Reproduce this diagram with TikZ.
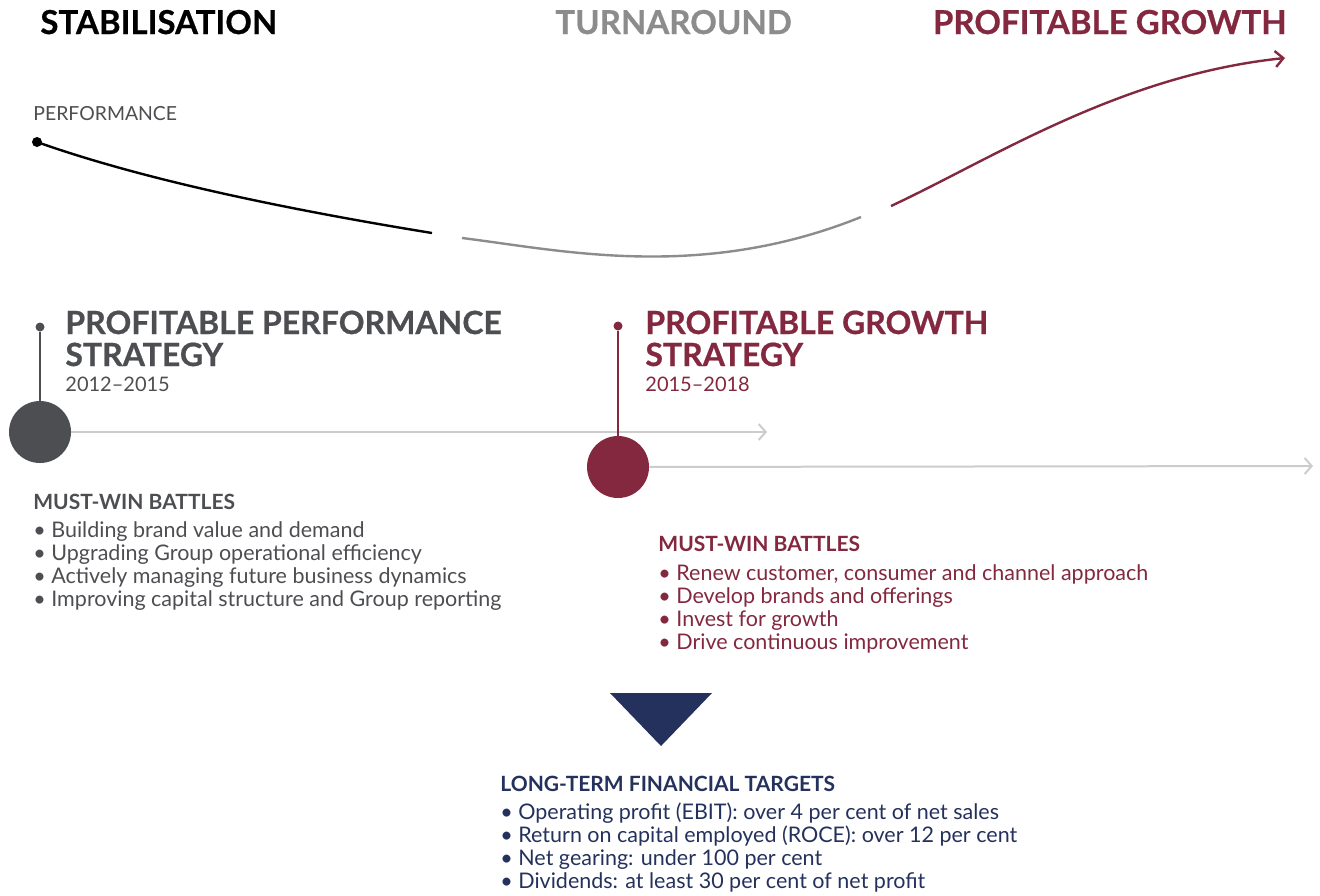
\documentclass[tikz,border=0pt]{standalone}
\usepackage{fontspec}
\setmainfont{Lato}
\newfontfamily\heavy[FakeBold=0.6]{Lato Bold}
\usetikzlibrary{arrows.meta}
\definecolor{slate}{HTML}{4D4E52}
\definecolor{wine}{HTML}{83283F}
\definecolor{navy}{HTML}{24315C}
\definecolor{ash}{HTML}{8C8C8C}
\definecolor{mist}{HTML}{CCCCCC}
\begin{document}
\begin{tikzpicture}[x=0.5pt,y=-0.5pt,
  phase/.style={anchor=base west,inner sep=0pt,font=\fontsize{16.5}{18}\selectfont\heavy},
  title/.style={anchor=base west,inner sep=0pt,font=\fontsize{16}{18}\selectfont\heavy},
  years/.style={anchor=base west,inner sep=0pt,font=\fontsize{10}{12}\selectfont},
  battle/.style={anchor=base west,inner sep=0pt,font=\fontsize{10.5}{12}\selectfont\bfseries},
  item/.style={anchor=base west,inner sep=0pt,font=\fontsize{10.75}{12}\selectfont},
  pin/.style={circle,inner sep=0pt,minimum size=4.5pt},
  disc/.style={circle,inner sep=0pt,minimum size=31pt},
  track/.style={draw=mist,line width=1pt,-{Straight Barb[length=3.5pt,width=8pt]}}]
\useasboundingbox (0,0) rectangle (1320,895);
% phases
\node[phase] (stab) at (40,34) {STABILISATION};
\node[phase,text=ash] (turn) at (555,34) {TURNAROUND};
\node[phase,text=wine,anchor=base east] (grow) at (1287,34) {PROFITABLE GROWTH};
% performance curve
\node[anchor=base west,inner sep=0pt,text=slate,font=\fontsize{9.7}{10}\selectfont] (perf) at (33,120) {PERFORMANCE};
\node[pin,fill=black,minimum size=5pt] (perf-dot) at (37,142) {};
\coordinate (c1) at (432,233);
\coordinate (c2) at (462,238);
\coordinate (c3) at (861,217);
\coordinate (c4) at (891,206);
\coordinate (c5) at (1285,58);
\draw[line width=1.2pt,black] (perf-dot.center) .. controls (130,175) and (260,205) .. (c1);
\draw[line width=1.2pt,ash] (c2) .. controls (560,250) and (700,282) .. (c3);
\draw[line width=1.2pt,wine,-{Straight Barb[length=4pt,width=8pt]}] (c4) .. controls (990,160) and (1120,75) .. (c5);
% profitable performance strategy
\node[pin,fill=slate] (pp-dot) at (40,327) {};
\node[disc,fill=slate] (pp-disc) at (40,432) {};
\coordinate (pp-end) at (767,432);
\draw[slate,line width=1pt] (pp-dot) -- (pp-disc);
\draw[track] (pp-disc) -- (pp-end);
\node[title,text=slate] (pp-title1) at (65,334) {PROFITABLE PERFORMANCE};
\node[title,text=slate] (pp-title2) at (65,366) {STRATEGY};
\node[years,text=slate] (pp-years) at (65,391) {2012–2015};
\node[battle,text=slate] (pp-mwb) at (33,509) {MUST-WIN BATTLES};
\foreach \txt [count=\i] in {Building brand value and demand,
  Upgrading Group operational efficiency,
  Actively managing future business dynamics,
  Improving capital structure and Group reporting}
  \node[item,text=slate] (pp-item\i) at (33,{537+23*(\i-1)}) {\textbullet\ \txt};
% profitable growth strategy
\node[pin,fill=wine] (pg-dot) at (618,326) {};
\node[disc,fill=wine] (pg-disc) at (618,467) {};
\coordinate (pg-end) at (1313,466);
\draw[wine,line width=1pt] (pg-dot) -- (pg-disc);
\draw[track] (pg-disc) -- (pg-end);
\node[title,text=wine] (pg-title1) at (645,334) {PROFITABLE GROWTH};
\node[title,text=wine] (pg-title2) at (645,366) {STRATEGY};
\node[years,text=wine] (pg-years) at (645,391) {2015–2018};
\node[battle,text=wine] (pg-mwb) at (658,551) {MUST-WIN BATTLES};
\foreach \txt [count=\i] in {{Renew customer, consumer and channel approach},
  Develop brands and offerings,
  Invest for growth,
  Drive continuous improvement}
  \node[item,text=wine] (pg-item\i) at (658,{580+23*(\i-1)}) {\textbullet\ \txt};
% long-term targets
\coordinate (tri-a) at (610,693);
\coordinate (tri-b) at (712,693);
\coordinate (tri-c) at (661,746);
\fill[navy] (tri-a) -- (tri-b) -- (tri-c) -- cycle;
\node[battle,text=navy] (lt-head) at (500,791) {LONG-TERM FINANCIAL TARGETS};
\foreach \txt [count=\i] in {{Operating profit (EBIT): over 4 per cent of net sales},
  {Return on capital employed (ROCE): over 12 per cent},
  {Net gearing: under 100 per cent},
  {Dividends: at least 30 per cent of net profit}}
  \node[item,text=navy] (lt-item\i) at (500,{819+23*(\i-1)}) {\textbullet\ \txt};
\end{tikzpicture}
\end{document}
